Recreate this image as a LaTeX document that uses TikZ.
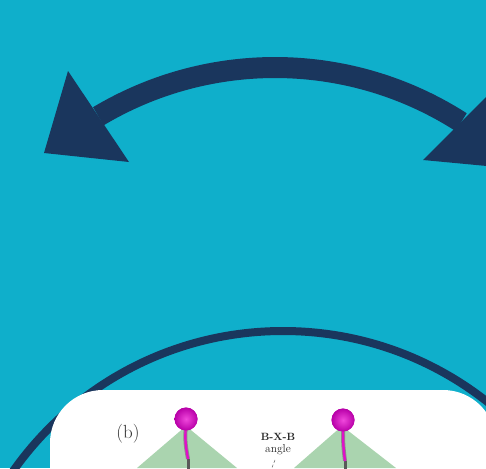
\documentclass[tikz,border=0pt]{standalone}
\usetikzlibrary{calc}
\definecolor{teal0}{HTML}{0FAFCB}
\definecolor{navy0}{HTML}{1A365D}
\definecolor{leaf}{HTML}{AAD4AF}
\definecolor{atom}{HTML}{E010C8}
\definecolor{atomlite}{HTML}{F048DC}
\definecolor{atomdark}{HTML}{B800A8}
\tikzset{
  headfill/.style={fill=navy0, draw=none},
  pyramid/.style={fill=leaf, draw=none},
  atomball/.style={circle, inner sep=0pt, minimum size=23pt, inner color=atomlite, outer color=atomdark},
  stickedge/.style={draw=black!45, line width=4pt},
  stickpink/.style={draw=atom, line width=2.4pt},
  stickgrey/.style={draw=black!65, line width=3pt},
  lbl/.style={inner sep=0pt, text=black!80, font=\fontsize{19}{21}\selectfont},
  smalllbl/.style={inner sep=0pt, align=center, text=black!85, font=\fontsize{11.5}{13}\selectfont}
}
\begin{document}
\begin{tikzpicture}[x=1pt, y=-1pt]
  \useasboundingbox (0,0) rectangle (486,468);
  \clip (0,0) rectangle (486,468);
  \fill[teal0] (0,0) rectangle (486,468);

  % curved double-headed arrow
  \coordinate (ac) at (275,412);
  \draw[navy0, line width=21pt] ($(ac)+(-120.85:344.5)$) arc[start angle=-120.85, end angle=-57.3, radius=344.5];
  \coordinate (lt) at (44,153);
  \coordinate (l1) at (68,71);
  \coordinate (l2) at (129,162);
  \fill[headfill] (lt) -- (l1) -- (l2) -- cycle;
  \coordinate (rt) at (508,168);
  \coordinate (r1) at (423,160);
  \coordinate (r2) at (500,83);
  \fill[headfill] (rt) -- (r1) -- (r2) -- cycle;

  % large ring
  \coordinate (rc) at (283,661);
  \draw[navy0, line width=8pt] (rc) circle[radius=330];

  % inset panel
  \fill[white, rounded corners=53pt] (50,390) rectangle (496,560);

  % coordination pyramids
  \fill[pyramid] (186,426) -- (137,468) -- (237,468) -- cycle;
  \fill[pyramid] (342,426) -- (294,468) -- (396,468) -- cycle;

  % atoms and bonds
  \node[atomball] (b1) at (186,419) {};
  \node[atomball] (b2) at (343,420) {};
  \coordinate (s1) at (188,459);
  \coordinate (s1e) at (188,470);
  \coordinate (s2) at (345,461);
  \coordinate (s2e) at (345,470);
  \draw[stickgrey] (s1) -- (s1e);
  \draw[stickgrey] (s2) -- (s2e);
  \draw[stickedge] (b1.center) .. controls (185,442) .. (s1);
  \draw[stickedge] (b2.center) .. controls (343,444) .. (s2);
  \draw[stickpink] (b1.center) .. controls (185,442) .. (s1);
  \draw[stickpink] (b2.center) .. controls (343,444) .. (s2);
  \node[atomball] at (b1) {};
  \node[atomball] at (b2) {};

  % labels
  \node[lbl] (tag) at (128,434) {(b)};
  \node[smalllbl] (ang) at (278,444) {{\fontsize{10.5}{12}\selectfont\bfseries B-X-B}\\[-1pt]angle};
  \coordinate (angend) at (271,470);
  \draw[black!60, densely dashed, line width=0.5pt] ($(ang.south)+(-3,5)$) -- (angend);
\end{tikzpicture}
\end{document}
